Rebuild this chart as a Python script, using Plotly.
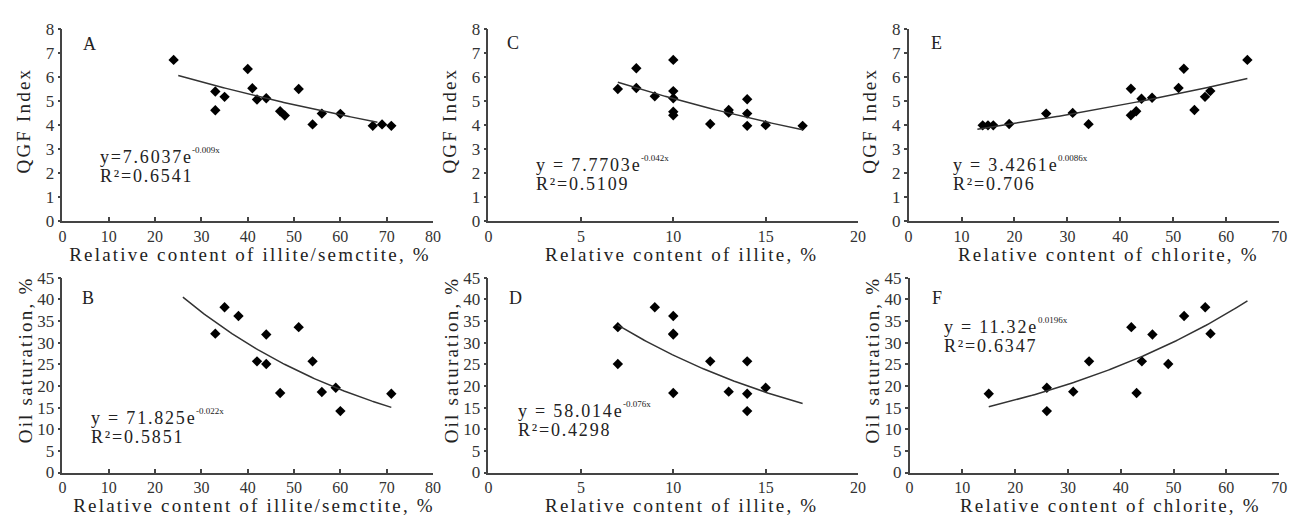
import numpy as np
import plotly.graph_objects as go

# ---- measured samples -------------------------------------------------------
# QGF index against clay-mineral content
is_qgf_x = [24, 33, 33, 35, 40, 41, 42, 44, 47, 48, 51, 54, 56, 60, 67, 69, 71]
is_qgf_y = [6.72, 5.40, 4.62, 5.18, 6.34, 5.54, 5.07, 5.12, 4.58, 4.40, 5.51, 4.03, 4.48, 4.47, 3.97, 4.03, 3.97]

illite_qgf_x = [7, 8, 8, 9, 10, 10, 10, 10, 10, 12, 13, 13, 14, 14, 14, 15, 17]
illite_qgf_y = [5.51, 6.37, 5.55, 5.20, 6.72, 5.42, 5.12, 4.56, 4.41, 4.05, 4.63, 4.52, 5.08, 4.48, 3.97, 4.00, 3.97]

chl_qgf_x = [14, 15, 16, 19, 26, 31, 34, 42, 42, 43, 44, 46, 51, 52, 54, 56, 57, 64]
chl_qgf_y = [3.99, 3.99, 3.99, 4.05, 4.48, 4.51, 4.04, 5.52, 4.41, 4.58, 5.10, 5.14, 5.55, 6.35, 4.63, 5.18, 5.42, 6.72]

# Oil saturation (%) against clay-mineral content
is_oil_x = [33, 35, 38, 42, 44, 44, 47, 51, 54, 56, 59, 60, 71]
is_oil_y = [32.1, 38.2, 36.2, 25.7, 31.9, 25.1, 18.4, 33.6, 25.7, 18.6, 19.6, 14.2, 18.2]

illite_oil_x = [7, 7, 9, 10, 10, 10, 10, 12, 13, 14, 14, 14, 15]
illite_oil_y = [33.6, 25.1, 38.2, 36.2, 32.1, 31.9, 18.4, 25.7, 18.7, 25.7, 18.2, 14.2, 19.6]

chl_oil_x = [15, 26, 26, 31, 34, 42, 43, 44, 46, 49, 52, 56, 57]
chl_oil_y = [18.2, 19.6, 14.2, 18.7, 25.7, 33.6, 18.4, 25.7, 31.9, 25.1, 36.2, 38.2, 32.1]

# Exponential regressions y = a * exp(b * x)
fit_a = {"A": 7.6037, "C": 7.7703, "E": 3.4261, "B": 71.825, "D": 58.014, "F": 11.32}
fit_b = {"A": -0.009, "C": -0.042, "E": 0.0086, "B": -0.022, "D": -0.076, "F": 0.0196}
fit_r2 = {"A": 0.6541, "C": 0.5109, "E": 0.706, "B": 0.5851, "D": 0.4298, "F": 0.6347}
fit_span = {"A": (25, 68), "C": (7, 17), "E": (13, 64), "B": (26, 71), "D": (7, 17), "F": (15, 64)}

x_titles = {
    "A": "Relative content of illite/semctite, %",
    "B": "Relative content of illite/semctite, %",
    "C": "Relative content of illite, %",
    "D": "Relative content of illite, %",
    "E": "Relative content of chlorite, %",
    "F": "Relative content of chlorite, %",
}
y_titles = {"top": "QGF Index", "bottom": "Oil saturation, %"}

x_ranges = {"A": 80, "B": 80, "C": 20, "D": 20, "E": 70, "F": 70}
x_dticks = {"A": 10, "B": 10, "C": 5, "D": 5, "E": 10, "F": 10}

# ---- layout geometry (pixels on a 1301 x 523 page) -------------------------
W, H = 1301, 523
col_px = {"A": (59, 433), "C": (489, 862), "E": (913, 1287),
          "B": (59, 433), "D": (489, 862), "F": (914, 1287)}
row_px = {"top": (21, 220), "bottom": (279, 481)}

panels = [
    ("A", "top", is_qgf_x, is_qgf_y),
    ("C", "top", illite_qgf_x, illite_qgf_y),
    ("E", "top", chl_qgf_x, chl_qgf_y),
    ("B", "bottom", is_oil_x, is_oil_y),
    ("D", "bottom", illite_oil_x, illite_oil_y),
    ("F", "bottom", chl_oil_x, chl_oil_y),
]

# label placement
letter_pos = {"A": (0.075, 0.925), "C": (0.070, 0.928), "E": (0.078, 0.928),
              "B": (0.072, 0.896), "D": (0.075, 0.896), "F": (0.078, 0.896)}
eq_px = {"A": (95, 153.5), "C": (535, 162), "E": (956, 162),
         "B": (86, 424), "D": (517, 417), "F": (947, 330)}   # left edge, first-line centre
EQ_LINE_GAP = 20
eq_sign = {"A": "y=", "C": "y = ", "E": "y = ", "B": "y = ", "D": "y = ", "F": "y = "}
xtitle_cx = {"A": 248, "C": 684, "E": 1115, "B": 252, "D": 684, "F": 1117}
xtitle_cy = {"top": 255, "bottom": 515}
ytitle_c = {"top": (20, 115), "bottom": (22, 364)}

SERIF = "Liberation Serif"
AXIS_COLOR = "#444444"
TEXT_COLOR = "#222222"
EQ_SIZE, EQ_SPACING = 18, 1.8
EXP_SIZE = 9

# advance widths of Liberation Serif (Times metrics, 1/1000 em)
ADV = {"y": 500, "=": 564, " ": 250, ".": 250, "e": 444, "-": 333}
for d in "0123456789":
    ADV[d] = 500


def text_width(s, size, spacing):
    return sum(ADV.get(c, 500) for c in s) * size / 1000 + len(s) * spacing


fig = go.Figure()
layout = dict(
    width=W, height=H,
    margin=dict(l=0, r=0, t=0, b=0),
    paper_bgcolor="white", plot_bgcolor="white",
    showlegend=False,
    font=dict(family=SERIF, color=TEXT_COLOR),
)
annotations = []

for i, (key, row, xs, ys) in enumerate(panels, start=1):
    xa = "xaxis" if i == 1 else f"xaxis{i}"
    ya = "yaxis" if i == 1 else f"yaxis{i}"
    xr = "x" if i == 1 else f"x{i}"
    yr = "y" if i == 1 else f"y{i}"

    x0, x1 = col_px[key]
    y0, y1 = row_px[row]
    xdom = [x0 / W, x1 / W]
    ydom = [1 - y1 / H, 1 - y0 / H]
    pw, ph = x1 - x0, y1 - y0

    ymax, ydt = (8, 1) if row == "top" else (45, 5)

    layout[xa] = dict(
        domain=xdom, anchor=yr, range=[0, x_ranges[key]], dtick=x_dticks[key], tick0=0,
        showline=True, linecolor=AXIS_COLOR, linewidth=1.5,
        ticks="inside", ticklen=4, tickwidth=1.5, tickcolor=AXIS_COLOR,
        showgrid=False, zeroline=False,
        tickfont=dict(family=SERIF, size=16, color="#333333"),
        ticklabelstandoff=0,
    )
    layout[ya] = dict(
        domain=ydom, anchor=xr, range=[0, ymax], dtick=ydt, tick0=0,
        showline=True, linecolor=AXIS_COLOR, linewidth=1.5,
        ticks="outside", ticklen=3, tickwidth=1.5, tickcolor=AXIS_COLOR,
        showgrid=False, zeroline=False,
        tickfont=dict(family=SERIF, size=17, color="#333333"),
        ticklabelstandoff=0,
    )

    # sample points
    fig.add_trace(go.Scatter(
        x=xs, y=ys, mode="markers", xaxis=xr, yaxis=yr,
        marker=dict(symbol="diamond", size=8, color="black"),
        hoverinfo="x+y",
    ))

    # regression curve from the fitted equation
    a, b = fit_a[key], fit_b[key]
    xf = np.linspace(fit_span[key][0], fit_span[key][1], 120)
    fig.add_trace(go.Scatter(
        x=xf, y=a * np.exp(b * xf), mode="lines", xaxis=xr, yaxis=yr,
        line=dict(color="#333333", width=1.5), hoverinfo="skip",
    ))

    # panel letter
    lx, ly = letter_pos[key]
    annotations.append(dict(
        text=key, xref=f"{xr} domain", yref=f"{yr} domain", x=lx, y=ly,
        xanchor="center", yanchor="middle", showarrow=False,
        font=dict(family=SERIF, size=18, color=TEXT_COLOR),
    ))

    # regression equation: base text, small exponent, then R²
    ex_px, ey_px = eq_px[key]
    base = f"{eq_sign[key]}{a}e"
    base_w = text_width(base, EQ_SIZE, EQ_SPACING)
    eq_items = [
        (base, ex_px, ey_px, EQ_SIZE),
        (f"{b}x", ex_px + base_w, ey_px - 7, EXP_SIZE),
        (f"R²={fit_r2[key]}", ex_px, ey_px + EQ_LINE_GAP, EQ_SIZE),
    ]
    for txt, px_x, px_y, fs in eq_items:
        annotations.append(dict(
            text=txt, xref=f"{xr} domain", yref=f"{yr} domain",
            x=(px_x - x0) / pw, y=(y1 - px_y) / ph,
            xanchor="left", yanchor="middle", align="left", showarrow=False,
            font=dict(family=SERIF, size=fs, color=TEXT_COLOR),
        ))

    # x-axis title
    annotations.append(dict(
        text=x_titles[key], xref="paper", yref="paper",
        x=xtitle_cx[key] / W, y=1 - xtitle_cy[row] / H,
        xanchor="center", yanchor="middle", showarrow=False,
        font=dict(family=SERIF, size=19, color=TEXT_COLOR),
    ))

    # y-axis title
    ty_x = x0 - 59 + ytitle_c[row][0]
    annotations.append(dict(
        text=y_titles[row], xref="paper", yref="paper",
        x=ty_x / W, y=1 - ytitle_c[row][1] / H, textangle=-90,
        xanchor="center", yanchor="middle", showarrow=False,
        font=dict(family=SERIF, size=19, color=TEXT_COLOR),
    ))

layout["annotations"] = annotations
fig.update_layout(**layout)

# widen the letter spacing of the larger labels, as in the typeset figure
spacing_js = """
document.querySelectorAll('text.annotation-text').forEach(function (t) {
  var fs = parseFloat(t.style.fontSize);
  if (fs >= 19) { t.style.letterSpacing = '2.2px'; }
  else if (fs >= 17) { t.style.letterSpacing = '1.8px'; }
});
"""
fig.write_html("out.html", post_script=spacing_js)
